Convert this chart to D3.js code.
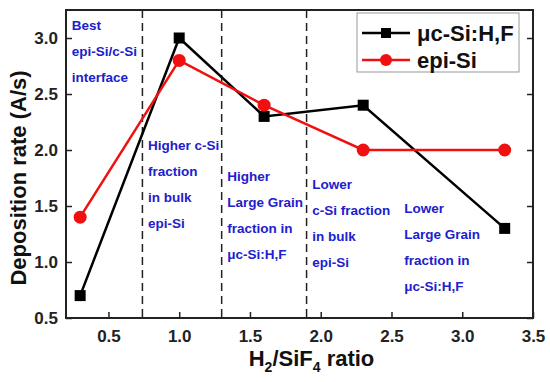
<!DOCTYPE html>
<html>
<head>
<meta charset="utf-8">
<script src="https://cdn.jsdelivr.net/npm/d3@7"></script>
<style>
body { margin: 0; background: #fff; }
text { font-family: "Liberation Sans", Arial, sans-serif; font-weight: bold; }
</style>
</head>
<body>
<script>
//data
var ratio = [0.3, 1.0, 1.6, 2.3, 3.3];
var ucSi = [0.7, 3.0, 2.3, 2.4, 1.3];
var epiSi = [1.4, 2.8, 2.4, 2.0, 2.0];
var xTicks = [0.5, 1.0, 1.5, 2.0, 2.5, 3.0, 3.5];
var yTicks = [0.5, 1.0, 1.5, 2.0, 2.5, 3.0];
var dividers = [0.74, 1.3, 1.9];
var notes = [
    {x: 0.24, y: 3.07, lines: ["Best", "epi-Si/c-Si", "interface"]},
    {x: 0.78, y: 2.0, lines: ["Higher c-Si", "fraction", "in bulk", "epi-Si"]},
    {x: 1.34, y: 1.72, lines: ["Higher", "Large Grain", "fraction in", "\u03bcc-Si:H,F"]},
    {x: 1.94, y: 1.65, lines: ["Lower", "c-Si fraction", "in bulk", "epi-Si"]},
    {x: 2.59, y: 1.44, lines: ["Lower", "Large Grain", "fraction in", "\u03bcc-Si:H,F"]}
];

var w = 550, h = 382;
var m = {left: 66, right: 17, top: 10, bottom: 64};

var svg = d3.select("body").append("svg")
    .attr("width", w)
    .attr("height", h);

var x = d3.scaleLinear()
    .domain([0.2, 3.5])
    .range([m.left, w - m.right]);

var y = d3.scaleLinear()
    .domain([0.5, 3.25])
    .range([h - m.bottom, m.top]);

//dashed dividers
svg.selectAll(".divider")
    .data(dividers)
    .enter()
    .append("line")
    .attr("x1", function(d){ return x(d); })
    .attr("x2", function(d){ return x(d); })
    .attr("y1", y.range()[1])
    .attr("y2", y.range()[0])
    .style("stroke", "#222")
    .style("stroke-width", 1.5)
    .style("stroke-dasharray", "8,5");

//annotations
notes.forEach(function(n){
    svg.append("text")
        .attr("x", x(n.x))
        .attr("y", y(n.y))
        .style("fill", "#2020cc")
        .style("font-size", "13.5px")
        .selectAll("tspan")
        .data(n.lines)
        .enter()
        .append("tspan")
        .attr("x", x(n.x))
        .attr("dy", function(d, i){ return i === 0 ? 0 : 26; })
        .text(function(d){ return d; });
});

//axes, ticks inside
var xAxis = svg.append("g")
    .attr("transform", "translate(0," + (h - m.bottom) + ")")
    .call(d3.axisBottom(x).tickValues(xTicks).tickFormat(d3.format(".1f")).tickSize(-6).tickPadding(12));

var yAxis = svg.append("g")
    .attr("transform", "translate(" + m.left + ",0)")
    .call(d3.axisLeft(y).tickValues(yTicks).tickFormat(d3.format(".1f")).tickSize(-6).tickPadding(8));

var yRight = svg.append("g")
    .attr("transform", "translate(" + (w - m.right) + ",0)")
    .call(d3.axisRight(y).tickValues(yTicks).tickFormat("").tickSize(-6));

[xAxis, yAxis, yRight].forEach(function(g){
    g.select(".domain").remove();
    g.selectAll("line").style("stroke", "#222").style("stroke-width", 1.5);
    g.selectAll("text").style("font-size", "17px").style("fill", "#222")
        .style("font-family", "'Liberation Sans', Arial, sans-serif").style("font-weight", "bold");
});

//frame
svg.append("rect")
    .attr("x", m.left)
    .attr("y", m.top)
    .attr("width", w - m.left - m.right)
    .attr("height", h - m.top - m.bottom)
    .style("fill", "none")
    .style("stroke", "#222")
    .style("stroke-width", 2);

//series
var series = [
    {name: "\u03bcc-Si:H,F", values: ucSi, color: "#000", shape: "square"},
    {name: "epi-Si", values: epiSi, color: "#f01010", shape: "circle"}
];

var line = d3.line()
    .x(function(d){ return x(d[0]); })
    .y(function(d){ return y(d[1]); });

series.forEach(function(s){
    var pts = ratio.map(function(r, i){ return [r, s.values[i]]; });
    svg.append("path")
        .datum(pts)
        .attr("d", line)
        .style("fill", "none")
        .style("stroke", s.color)
        .style("stroke-width", 2.5);
    if (s.shape === "square") {
        svg.selectAll(".sq")
            .data(pts)
            .enter()
            .append("rect")
            .attr("x", function(d){ return x(d[0]) - 5.5; })
            .attr("y", function(d){ return y(d[1]) - 5.5; })
            .attr("width", 11)
            .attr("height", 11)
            .style("fill", s.color);
    } else {
        svg.selectAll(".ci")
            .data(pts)
            .enter()
            .append("circle")
            .attr("cx", function(d){ return x(d[0]); })
            .attr("cy", function(d){ return y(d[1]); })
            .attr("r", 6.5)
            .style("fill", s.color);
    }
});

//legend
var legend = svg.append("g").attr("transform", "translate(357,13)");
legend.append("rect")
    .attr("width", 162)
    .attr("height", 59)
    .style("fill", "#fff")
    .style("stroke", "#999")
    .style("stroke-width", 1);

series.forEach(function(s, i){
    var ly = 20 + i * 27;
    legend.append("line")
        .attr("x1", 5).attr("x2", 53)
        .attr("y1", ly).attr("y2", ly)
        .style("stroke", s.color)
        .style("stroke-width", 2.5);
    if (s.shape === "square") {
        legend.append("rect")
            .attr("x", 24).attr("y", ly - 5)
            .attr("width", 10).attr("height", 10)
            .style("fill", s.color);
    } else {
        legend.append("circle")
            .attr("cx", 29).attr("cy", ly)
            .attr("r", 6)
            .style("fill", s.color);
    }
    legend.append("text")
        .attr("x", 60)
        .attr("y", ly + 8)
        .style("font-size", "22px")
        .style("fill", "#111")
        .text(s.name);
});

//axis titles
svg.append("text")
    .attr("transform", "translate(26," + ((m.top + h - m.bottom) / 2 + 14) + ") rotate(-90)")
    .attr("text-anchor", "middle")
    .style("font-size", "22px")
    .style("fill", "#111")
    .text("Deposition rate (A/s)");

var xt = svg.append("text")
    .attr("x", (m.left + w - m.right) / 2 + 12)
    .attr("y", 366)
    .attr("text-anchor", "middle")
    .style("font-size", "22px")
    .style("fill", "#111");
xt.append("tspan").text("H");
xt.append("tspan").attr("dy", 6).style("font-size", "14px").text("2");
xt.append("tspan").attr("dy", -6).text("/SiF");
xt.append("tspan").attr("dy", 6).style("font-size", "14px").text("4");
xt.append("tspan").attr("dy", -6).text(" ratio");
</script>
</body>
</html>
